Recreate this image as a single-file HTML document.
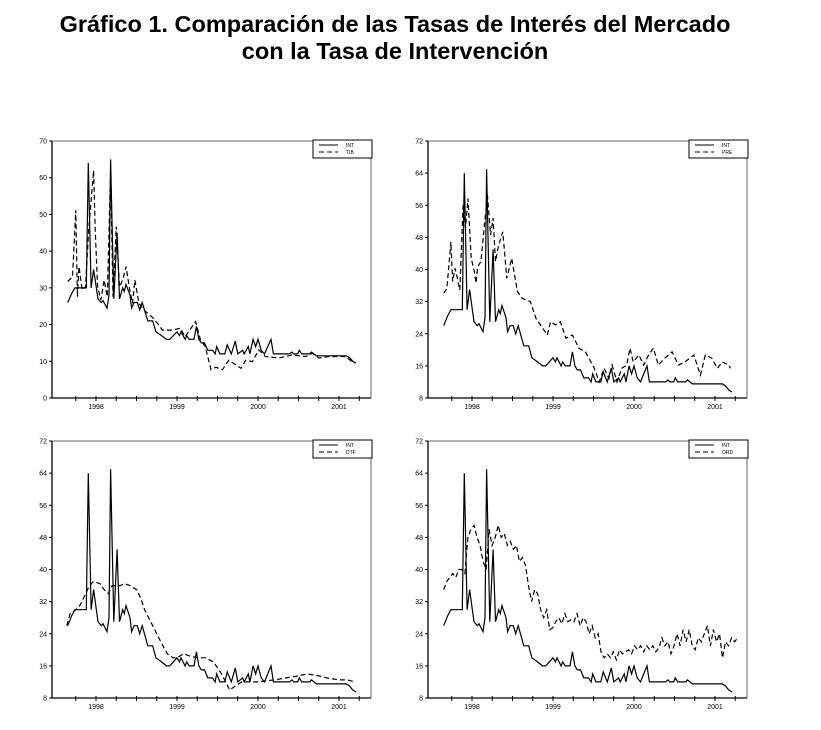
<!DOCTYPE html>
<html><head><meta charset="utf-8">
<style>
body{margin:0;background:#fff;width:821px;height:730px;overflow:hidden;font-family:"Liberation Sans",sans-serif}
.t{position:absolute;left:0;width:790px;text-align:center;font-weight:bold;font-size:23.5px;color:#000}
svg{position:absolute;left:0;top:0}
</style></head><body>
<div class="t" style="top:11px">Gráfico 1. Comparación de las Tasas de Interés del Mercado</div>
<div class="t" style="top:38px">con la Tasa de Intervención</div>
<svg id="s" width="821" height="730"></svg>
<script>
const intT=[1997.65,1997.70,1997.74,1997.88,1997.905,1997.94,1997.97,1998.025,1998.066,1998.086,1998.136,1998.16,1998.18,1998.22,1998.26,1998.29,1998.33,1998.35,1998.37,1998.42,1998.44,1998.47,1998.51,1998.54,1998.57,1998.64,1998.70,1998.74,1998.81,1998.87,1998.91,1999.0,1999.03,1999.05,1999.10,1999.12,1999.15,1999.21,1999.24,1999.27,1999.30,1999.34,1999.38,1999.44,1999.47,1999.49,1999.53,1999.59,1999.62,1999.67,1999.72,1999.75,1999.81,1999.83,1999.88,1999.90,1999.94,1999.97,2000.0,2000.04,2000.08,2000.16,2000.19,2000.39,2000.42,2000.44,2000.49,2000.51,2000.54,2000.64,2000.66,2000.72,2000.80,2001.09,2001.13,2001.17,2001.21];
const intV=[26,28.5,30,30,64,30,35,27,26,26.5,24.5,28,65,27,45,27,30,29,31,28,24.5,26,26,24,26,21,21,18,17,16,16,18,17,18,16,17,16,16,19.5,16,15,15,13,13,12,14,12,12,14.5,12,15.5,12,13,12,14,12,16,14,16,13,12,16,12,12,12.5,12,12,13,12,12,12.5,11.5,11.5,11.5,11,10,9.5];
const tibT=[1997.65,1997.71,1997.75,1997.77,1997.79,1997.83,1997.87,1997.91,1997.97,1997.99,1998.02,1998.06,1998.10,1998.14,1998.18,1998.21,1998.25,1998.29,1998.33,1998.37,1998.41,1998.45,1998.48,1998.53,1998.59,1998.69,1998.76,1998.82,1998.94,1999.04,1999.10,1999.23,1999.29,1999.35,1999.42,1999.48,1999.56,1999.64,1999.70,1999.79,1999.85,1999.93,2000.01,2000.09,2000.26,2000.42,2000.59,2000.67,2000.75,2000.88,2001.08,2001.19];
const tibV=[31.7,33,51.2,27.6,35.8,29.4,30.3,45.8,62,45.8,30.3,26.7,32.1,27.6,62,27.6,46.7,30.3,32.1,35.8,30.3,25.8,32.1,25.8,24,22.1,20.3,18.5,18.5,19,16.7,20.8,15.8,14,7.7,8.4,7.7,10.3,9.4,8.1,10.3,9.9,13.1,11.3,10.9,11.7,11.3,12.2,10.9,11.3,11.3,9.4];
const preT=[1997.65,1997.69,1997.74,1997.76,1997.79,1997.82,1997.85,1997.89,1997.92,1997.95,1997.99,1998.03,1998.05,1998.07,1998.11,1998.19,1998.23,1998.26,1998.29,1998.33,1998.38,1998.43,1998.49,1998.56,1998.62,1998.72,1998.79,1998.93,1998.97,1999.03,1999.09,1999.16,1999.24,1999.32,1999.40,1999.51,1999.57,1999.63,1999.69,1999.73,1999.79,1999.85,1999.91,1999.95,1999.99,2000.06,2000.12,2000.18,2000.24,2000.30,2000.38,2000.47,2000.55,2000.63,2000.74,2000.82,2000.88,2000.96,2001.03,2001.09,2001.17,2001.19];
const preV=[34.1,35.3,46.9,37,40.3,37.8,34.9,56,50.3,57.7,42.8,39.5,36.6,40.7,42,58.6,48.6,52.8,42,46.1,49.4,37.8,42.8,34.5,32.8,32,27.8,23.7,27,26.2,27,22.9,23.7,20.4,19.5,15.4,12,15.4,12.9,16.2,12,15.4,16.2,20.4,17,18.7,16.2,18.7,20.4,16.2,17.9,19.5,16.2,17,18.7,13.7,18.7,17.9,15.4,17,16.2,15.4];
const dtfT=[1997.64,1997.68,1997.75,1997.8,1997.85,1997.92,1997.97,1998.05,1998.1,1998.15,1998.2,1998.3,1998.35,1998.42,1998.5,1998.55,1998.6,1998.7,1998.8,1998.88,1998.95,1999.0,1999.08,1999.15,1999.25,1999.35,1999.45,1999.55,1999.6,1999.65,1999.72,1999.8,2000.0,2000.2,2000.35,2000.5,2000.6,2000.75,2000.85,2001.0,2001.1,2001.2];
const dtfV=[26,29,30,31,33,36,37,36.5,35,34,36,36,36.5,36,35,33,30,26,22,19,18,18,19,18.5,18,18,17,14,12,10,11,12,12,12.5,13,13.5,14,13.5,13,12.5,12.5,12];
const ordV=[35,37,38,39,38,40,40,39,48,50,51,48,46,42,40,50,46,48,51,48,49,46,47,45,46,42,43,41,36,32,35,34,30,28,30,25,25.5,27,28,26.5,29,27,27.5,27,29,26,28,27,24,26,23,24,19,18,19,18,19.5,17.5,20,19,19.5,20,19,21,20,21,19.5,21,20,21,19.5,20.5,23,21,22,19,21,24,21,25,22,25,21,20,23,22,24,26,21,25,22,24,18,22,21,23,22,23];
const yrTicks=[1998,1999,2000,2001];
const ticks1=[0,10,20,30,40,50,60,70];
const ticks2=[8,16,24,32,40,48,56,64,72];
const NS='http://www.w3.org/2000/svg',S=document.getElementById('s');
function el(tag,a,p){const e=document.createElementNS(NS,tag);for(const k in a)e.setAttribute(k,a[k]);(p||S).appendChild(e);return e;}
function span(n,a,b){const r=[];for(let i=0;i<n;i++)r.push(a+(b-a)*i/(n-1));return r;}
function panel(id,x0,y0,ymin,ymax,yt,lab2,t2,v2){
  const x1=x0+319,y1=y0+257;
  const g=el('g',{});
  
  
  const sx=t=>x0+44+(t-1998)*81, sy=v=>y1-(v-ymin)/(ymax-ymin)*(y1-y0);
  el('path',{d:`M${x0} ${y0}H${x1}V${y1}`,stroke:'#999',fill:'none','stroke-width':1.5},g);
  el('path',{d:`M${x0} ${y0}V${y1}H${x1}`,stroke:'#000',fill:'none','stroke-width':1.3},g);
  for(const v of yt){const y=sy(v);el('line',{x1:x0-3,x2:x0,y1:y,y2:y,stroke:'#000'},g);
    const tx=el('text',{x:x0-5,y:y+2.5,'font-size':7,'text-anchor':'end'},g);tx.textContent=v;
    }
  for(let q=1997.75;q<2001.5;q+=0.25){const x=sx(q);el('line',{x1:x,x2:x,y1:y1-2,y2:y1+3,stroke:'#000'},g);}
  for(const yr of yrTicks){const tx=el('text',{x:sx(yr),y:y1+11,'font-size':7,'text-anchor':'middle'},g);tx.textContent=yr;
    }
  const path=(T,V)=>T.map((t,i)=>(i?'L':'M')+sx(t).toFixed(1)+' '+sy(V[i]).toFixed(1)).join('');
  const a=el('path',{d:path(intT,intV),stroke:'#000',fill:'none','stroke-width':1.2},g);
  
  const b=el('path',{d:path(t2,v2),stroke:'#000',fill:'none','stroke-width':1.2,'stroke-dasharray':'5 3'},g);
  
  const lg=el('g',{},g);
  el('rect',{x:x1-58,y:y0-1,width:59,height:18,fill:'#fff',stroke:'#000'},lg);
  el('line',{x1:x1-52,x2:x1-33,y1:y0+4,y2:y0+4,stroke:'#000'},lg);
  el('line',{x1:x1-52,x2:x1-33,y1:y0+11,y2:y0+11,stroke:'#000','stroke-dasharray':'5 3'},lg);
  let tx=el('text',{x:x1-25,y:y0+6,'font-size':5},lg);tx.textContent='INT';
  tx=el('text',{x:x1-25,y:y0+13,'font-size':5},lg);tx.textContent=lab2;
}
panel('panel-int-tib',52,141,0,70,ticks1,'TIB',tibT,tibV);
panel('panel-int-pre',428,141,8,72,ticks2,'PRE',preT,preV);
panel('panel-int-dtf',52,441,8,72,ticks2,'DTF',dtfT,dtfV);
panel('panel-int-ord',428,441,8,72,ticks2,'ORD',span(ordV.length,1997.65,2001.28),ordV);
</script>
</body></html>
